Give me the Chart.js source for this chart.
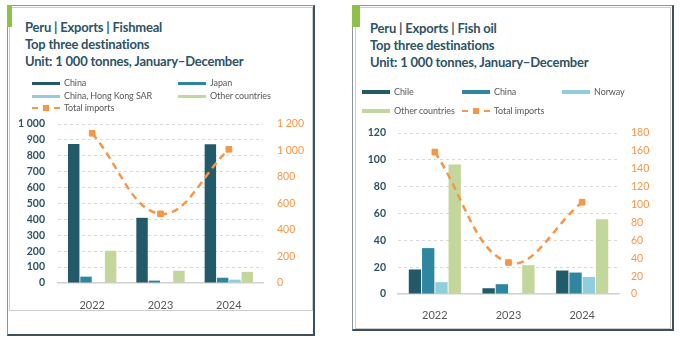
<!DOCTYPE html>
<html>
<head>
<meta charset="utf-8">
<script src="https://cdn.jsdelivr.net/npm/chart.js@4.4.0/dist/chart.umd.min.js"></script>
<style>
  body { margin: 0; width: 680px; height: 340px; background: #fff; position: relative; overflow: hidden; font-family: Lato, "Open Sans", sans-serif; }
  .abs { position: absolute; box-sizing: border-box; }
  .outer { border-top: 1px solid #8795a0; border-left: 1px solid #8795a0; border-right: 2px solid #3e505c; border-bottom: 2px solid #3e505c; }
  .inner { border: 1px solid #cccccc; }
  .accent { background: #8dc149; }
  .title { color: #2d5366; font-weight: bold; font-size: 13px; line-height: 17px; letter-spacing: -0.2px; white-space: nowrap; }
  .leg { position: absolute; font-size: 9px; letter-spacing: -0.1px; color: #595959; white-space: nowrap; line-height: 12px; height: 12px; }
  .sw { position: absolute; left: 0; width: 28px; }
  .leg span.txt { position: absolute; left: 32px; top: 0; }
</style>
</head>
<body>
<!-- left panel -->
<div class="abs outer" style="left:7px;top:5px;width:308px;height:331px"></div>
<div class="abs inner" style="left:9px;top:7px;width:304px;height:304px"></div>
<div class="abs accent" style="left:7px;top:5px;width:5px;height:22px"></div>
<div class="abs title" style="left:25px;top:19px">Peru | Exports | Fishmeal<br>Top three destinations<br>Unit: 1 000 tonnes, January–December</div>
<canvas id="mealChart" class="abs" width="301" height="193" style="left:10px;top:116px"></canvas>

<!-- right panel -->
<div class="abs outer" style="left:352px;top:5px;width:322px;height:326px"></div>
<div class="abs inner" style="left:355px;top:7px;width:316px;height:322px"></div>
<div class="abs accent" style="left:352px;top:5px;width:8px;height:22px"></div>
<div class="abs title" style="left:370px;top:20px">Peru | Exports | Fish oil<br>Top three destinations<br>Unit: 1 000 tonnes, January–December</div>
<canvas id="oilChart" class="abs" width="313" height="202" style="left:356px;top:125px"></canvas>

<script>
const years = ["2022", "2023", "2024"];

// Fishmeal, 1 000 tonnes
const mealChina = [875, 410, 872];
const mealJapan = [40, 15, 33];
const mealHongKong = [0, 0, 21];
const mealOther = [203, 77, 70];
const mealTotal = [1130, 522, 1009];

// Fish oil, 1 000 tonnes
const oilChile = [18.3, 4.3, 17.5];
const oilChina = [34.2, 7.3, 16];
const oilNorway = [8.8, 0.5, 12.7];
const oilOther = [96.6, 21.5, 55.7];
const oilTotal = [158.7, 35.2, 102.6];

const DARK = "#235a6a";
const TEAL = "#2e86a0";
const LIGHTBLUE = "#92cddc";
const GREEN = "#c3d69b";
const ORANGE = "#f79646";

Chart.defaults.font.family = "Lato, 'Open Sans', sans-serif";

const spaced = v => String(v).replace(/\B(?=(\d{3})+(?!\d))/g, " ");

function barSet(label, data, color) {
  return { label: label, data: data, backgroundColor: color, borderWidth: 0,
           categoryPercentage: 0.72, barPercentage: 0.93, yAxisID: "y", order: 1 };
}

function lineSet(data) {
  return { type: "line", label: "Total imports", data: data, yAxisID: "y1", order: 0,
           borderColor: ORANGE, backgroundColor: ORANGE, borderWidth: 2.5,
           borderDash: [7, 5], tension: 0.4, pointStyle: "rect", pointRadius: 4,
           pointBorderWidth: 1 };
}

// fixed axis sizes; drop the extra top/bottom padding chart.js adds for tick labels
function fixedWidth(w) {
  return a => { a.width = w; a.paddingTop = 0; a.paddingBottom = 0; };
}

function makeOptions(s) {
  return {
    responsive: false,
    devicePixelRatio: 1,
    animation: false,
    layout: { padding: { top: 8, left: 0, right: 0, bottom: 0 } },
    plugins: { legend: { display: false }, tooltip: { enabled: false } },
    scales: {
      x: {
        grid: { display: false },
        border: { display: true, color: "#d0d0d0", width: 1.5 },
        ticks: { color: "#595959", font: { size: 11 }, padding: s.xPad },
        afterFit: a => { a.height = s.xHeight; }
      },
      y: {
        position: "left",
        min: 0, max: s.yMax,
        ticks: { stepSize: s.yStep, autoSkip: false, color: "#2d5366",
                 font: { size: 10.5, weight: "bold" },
                 padding: s.yPad, callback: v => spaced(v) },
        grid: { color: c => c.tick.value === 0 ? "rgba(0,0,0,0)" : "#d9d9d9", drawTicks: false, lineWidth: 1 },
        border: { display: false, dash: [3, 3] },
        afterFit: fixedWidth(s.yWidth)
      },
      y1: {
        position: "right",
        min: 0, max: s.y1Max,
        ticks: { stepSize: s.y1Step, autoSkip: false, color: ORANGE, font: { size: 10.5 },
                 padding: s.y1Pad, callback: v => spaced(v) },
        grid: { drawOnChartArea: false, drawTicks: false },
        border: { display: false },
        afterFit: fixedWidth(s.y1Width)
      }
    }
  };
}

// html legend built from each chart's datasets
function buildLegend(chart, spots, swH) {
  chart.data.datasets.forEach((ds, i) => {
    const item = document.createElement("div");
    item.className = "leg";
    item.style.left = spots[i][0] + "px";
    item.style.top = (spots[i][1] - 6) + "px";
    const sw = document.createElement("div");
    sw.className = "sw";
    if (ds.type === "line") {
      sw.style.top = "5px";
      sw.style.height = "0px";
      sw.style.borderTop = "2.5px dashed " + ORANGE;
      const sq = document.createElement("div");
      sq.style.cssText = "position:absolute;left:11px;top:-4.5px;width:6px;height:6px;background:" + ORANGE;
      sw.appendChild(sq);
    } else {
      sw.style.top = (6 - swH / 2) + "px";
      sw.style.height = swH + "px";
      sw.style.background = ds.backgroundColor;
    }
    const txt = document.createElement("span");
    txt.className = "txt";
    txt.textContent = ds.label;
    item.appendChild(sw);
    item.appendChild(txt);
    document.body.appendChild(item);
  });
}

const mealChart = new Chart(document.getElementById("mealChart"), {
  type: "bar",
  data: {
    labels: years,
    datasets: [
      barSet("China", mealChina, DARK),
      barSet("Japan", mealJapan, TEAL),
      barSet("China, Hong Kong SAR", mealHongKong, LIGHTBLUE),
      barSet("Other countries", mealOther, GREEN),
      lineSet(mealTotal)
    ]
  },
  options: makeOptions({ yMax: 1000, yStep: 100, y1Max: 1200, y1Step: 200,
                         yWidth: 48, y1Width: 48, yPad: 13, y1Pad: 14, xHeight: 26, xPad: 8 })
});
buildLegend(mealChart, [[32, 83], [178, 83], [32, 96], [178, 96], [32, 108]], 3);

const oilChart = new Chart(document.getElementById("oilChart"), {
  type: "bar",
  data: {
    labels: years,
    datasets: [
      barSet("Chile", oilChile, DARK),
      barSet("China", oilChina, TEAL),
      barSet("Norway", oilNorway, LIGHTBLUE),
      barSet("Other countries", oilOther, GREEN),
      lineSet(oilTotal)
    ]
  },
  options: makeOptions({ yMax: 120, yStep: 20, y1Max: 180, y1Step: 20,
                         yWidth: 42, y1Width: 50, yPad: 12, y1Pad: 12, xHeight: 33, xPad: 7 })
});
buildLegend(oilChart, [[362, 92], [462, 92], [562, 92], [362, 111], [462, 111]], 4);
</script>
</body>
</html>
